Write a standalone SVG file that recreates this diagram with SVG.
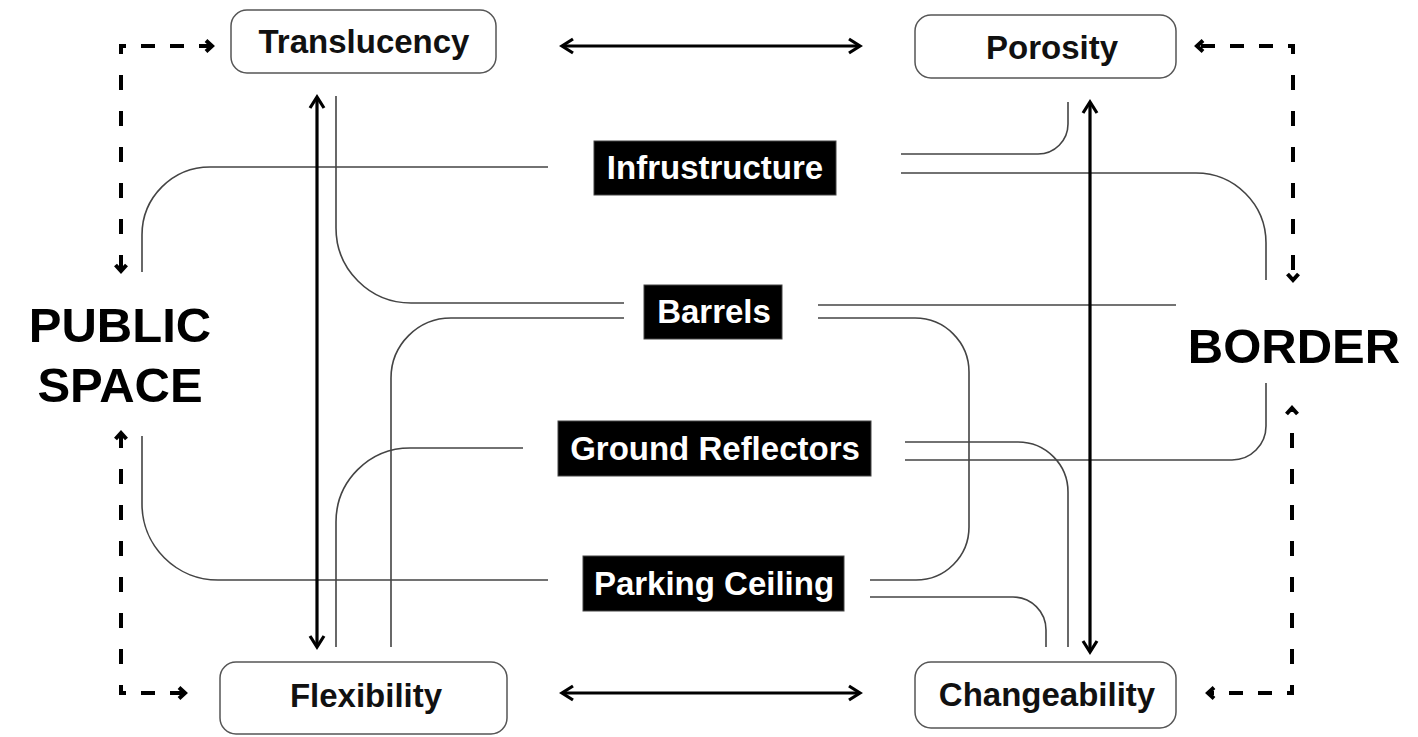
<svg xmlns="http://www.w3.org/2000/svg" width="1418" height="737" viewBox="0 0 1418 737">
<style>
.box{fill:#fff;stroke:#555;stroke-width:1.5}
.tag{fill:#000;stroke:#444;stroke-width:1}
.t{font-family:"Liberation Sans",Arial,sans-serif;font-weight:bold;font-size:33px;text-anchor:middle;fill:#111}
.w{font-family:"Liberation Sans",Arial,sans-serif;font-weight:bold;font-size:33px;text-anchor:middle;fill:#fff}
.big{font-family:"Liberation Sans",Arial,sans-serif;font-weight:bold;font-size:49px;text-anchor:middle;fill:#000}
.thin{fill:none;stroke:#444;stroke-width:1.6}
.thick{fill:none;stroke:#000;stroke-width:3.2;marker-start:url(#ah);marker-end:url(#ah)}
.dh{fill:none;stroke:#000;stroke-width:4;stroke-dasharray:14 15;stroke-dashoffset:7;marker-end:url(#dm)}
.dv{fill:none;stroke:#000;stroke-width:4;stroke-dasharray:15 21;stroke-dashoffset:5;marker-end:url(#dm)}
</style>
<defs>
<marker id="ah" markerUnits="userSpaceOnUse" viewBox="-16 -10 20 20" markerWidth="20" markerHeight="20" refX="0" refY="0" orient="auto-start-reverse">
<path d="M -11 -7 L 0 0 L -11 7" fill="none" stroke="#000" stroke-width="3.2"/>
</marker>
<marker id="dm" markerUnits="userSpaceOnUse" viewBox="-12 -9 16 18" markerWidth="16" markerHeight="18" refX="0" refY="0" orient="auto">
<path d="M -6 -5.5 L 0 0 L -6 5.5" fill="none" stroke="#000" stroke-width="4"/>
</marker>
</defs>
<rect width="1418" height="737" fill="#fff"/>

<g id="connectors">
<path class="thin" d="M 548 167 H 210 A 68 68 0 0 0 142 235 V 272"/>
<path class="thin" d="M 336 96 V 228 A 75 75 0 0 0 411 303 H 624"/>
<path class="thin" d="M 624 318 H 451 A 60 60 0 0 0 391 378 V 647"/>
<path class="thin" d="M 523 448 H 410 A 74 74 0 0 0 336 522 V 647"/>
<path class="thin" d="M 548 580 H 218 A 76 76 0 0 1 142 504 V 436"/>
<path class="thin" d="M 901 154 H 1038 A 30 30 0 0 0 1068 124 V 102"/>
<path class="thin" d="M 901 173 H 1196 A 70 70 0 0 1 1266 243 V 280"/>
<path class="thin" d="M 818 305 H 1176"/>
<path class="thin" d="M 818 318 H 915 A 54 54 0 0 1 969 372 V 527 A 53 53 0 0 1 916 580 H 870"/>
<path class="thin" d="M 905 442 H 1018 A 50 50 0 0 1 1068 492 V 647"/>
<path class="thin" d="M 905 460 H 1232 A 34 34 0 0 0 1266 426 V 383"/>
<path class="thin" d="M 870 597 H 1013 A 33 33 0 0 1 1046 630 V 647"/>

<path class="thick" d="M 562 46 H 860"/>
<path class="thick" d="M 562 693 H 860"/>
<path class="thick" d="M 317 97 V 647"/>
<path class="thick" d="M 1090 102 V 652"/>

<path class="dh" d="M 119 46 H 212"/>
<path class="dv" d="M 121 44 V 271"/>
<path class="dh" d="M 119 693 H 185"/>
<path class="dv" d="M 121 695 V 433"/>
<path class="dh" d="M 1295 46 H 1197"/>
<path class="dv" d="M 1293 44 V 280"/>
<path class="dh" d="M 1294 693 H 1208"/>
<path class="dv" d="M 1292 695 V 408"/>
</g>

<g id="translucency">
<rect class="box" x="231" y="10" width="265" height="63" rx="16"/>
<text class="t" x="364" y="53">Translucency</text>
</g>
<g id="porosity">
<rect class="box" x="915" y="15" width="261" height="63" rx="16"/>
<text class="t" x="1052" y="59">Porosity</text>
</g>
<g id="flexibility">
<rect class="box" x="220" y="662" width="287" height="72" rx="16"/>
<text class="t" x="366" y="707">Flexibility</text>
</g>
<g id="changeability">
<rect class="box" x="915" y="662" width="261" height="66" rx="16"/>
<text class="t" x="1047" y="706">Changeability</text>
</g>

<g id="infrustructure">
<rect class="tag" x="594" y="141" width="242" height="54"/>
<text class="w" x="715" y="179">Infrustructure</text>
</g>
<g id="barrels">
<rect class="tag" x="644" y="285" width="138" height="54"/>
<text class="w" x="714" y="323">Barrels</text>
</g>
<g id="ground-reflectors">
<rect class="tag" x="558" y="421" width="313" height="55"/>
<text class="w" x="715" y="460">Ground Reflectors</text>
</g>
<g id="parking-ceiling">
<rect class="tag" x="583" y="556" width="261" height="55"/>
<text class="w" x="714" y="595">Parking Ceiling</text>
</g>

<g id="public-space">
<text class="big" x="120" y="342">PUBLIC</text>
<text class="big" x="120" y="402">SPACE</text>
</g>
<g id="border">
<text class="big" x="1294" y="363">BORDER</text>
</g>
</svg>
